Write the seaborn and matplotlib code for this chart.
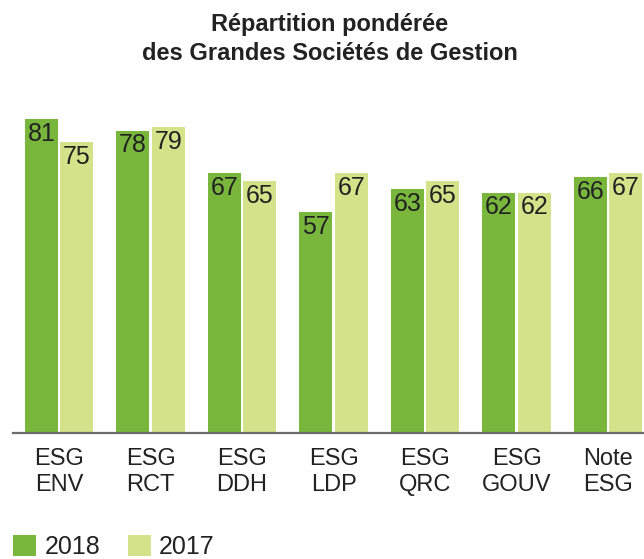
import matplotlib
matplotlib.use("Agg")
import matplotlib.pyplot as plt
import seaborn as sns
import pandas as pd
from matplotlib.patches import Patch

categories = ["ESG\nENV", "ESG\nRCT", "ESG\nDDH", "ESG\nLDP", "ESG\nQRC", "ESG\nGOUV", "Note\nESG"]
values_2018 = [81, 78, 67, 57, 63, 62, 66]
values_2017 = [75, 79, 65, 67, 65, 62, 67]
years = ["2018", "2017"]
colors = {"2018": "#78B63C", "2017": "#D4E389"}

df = pd.DataFrame({
    "cat": categories * 2,
    "value": values_2018 + values_2017,
    "year": ["2018"] * len(categories) + ["2017"] * len(categories),
})

sns.set_style("white")
plt.rcParams["font.family"] = ["Liberation Sans", "DejaVu Sans"]

fig = plt.figure(figsize=(6.44, 5.59), dpi=100)
ax = fig.add_axes([13 / 644, (559 - 433) / 559, (644 - 13) / 644, 329.5 / 559])

sns.barplot(data=df, x="cat", y="value", hue="year", hue_order=years,
            palette=colors, width=0.77, gap=0.06, saturation=1,
            linewidth=0, edgecolor="none", legend=False, ax=ax)

for cont in ax.containers:
    for bar in cont:
        h = bar.get_height()
        ax.annotate(f"{h:.0f}", (bar.get_x() + bar.get_width() / 2, h),
                    xytext=(0, -2), textcoords="offset points",
                    ha="center", va="top", fontsize=18, color="#222222")

ax.set_xlim(-0.503, 6.393)
ax.set_ylim(0, 85)
ax.set_xlabel("")
ax.set_ylabel("")
ax.set_yticks([])
ax.tick_params(axis="x", length=0, labelsize=17, labelcolor="#222222", pad=11)
for lab in ax.get_xticklabels():
    lab.set_linespacing(1.2)
for side in ["top", "right", "left"]:
    ax.spines[side].set_visible(False)
ax.spines["bottom"].set_color("#6b6b6b")
ax.spines["bottom"].set_linewidth(1.6)

fig.text(330 / 644, 1 - 39 / 559, "Répartition pondérée\ndes Grandes Sociétés de Gestion",
         ha="center", va="center", fontsize=17, fontweight="bold",
         color="#222222", linespacing=1.3)

handles = [Patch(facecolor=colors[y], edgecolor="none") for y in years]
fig.legend(handles, years, loc="center left", bbox_to_anchor=(13 / 644, 1 - 547 / 559),
           ncol=2, frameon=False, fontsize=18, handlelength=0.9, handleheight=0.9,
           handletextpad=0.35, columnspacing=1.12, borderpad=0, borderaxespad=0,
           labelcolor="#222222")

fig.savefig("out.png", dpi=100)
